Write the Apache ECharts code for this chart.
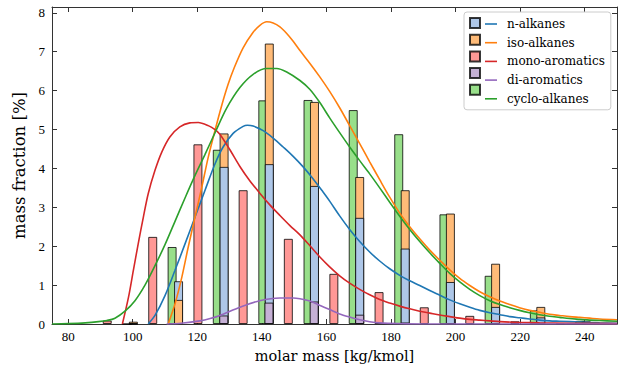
<!DOCTYPE html>
<html><head><meta charset="utf-8">
<script src="https://cdn.jsdelivr.net/npm/echarts@6/dist/echarts.min.js"></script>
<style>html,body{margin:0;padding:0;background:#fff}#c{width:621px;height:370px}</style>
</head><body><div id="c"></div>
<script>
// ---------- tick labels ----------
const xTicks = [80, 100, 120, 140, 160, 180, 200, 220, 240];
const yTicks = [0, 1, 2, 3, 4, 5, 6, 7, 8];

// ---------- histogram bars (molar mass [kg/kmol], mass fraction [%]) ----------
const alkaneMass   = [100.2, 114.2, 128.3, 142.3, 156.3, 170.3, 184.4, 198.4, 212.4, 226.4, 240.5];
const nAlkanes     = [0.00, 1.10, 4.04, 4.11, 3.55, 2.73, 1.94, 1.08, 0.44, 0.17, 0.04];
const isoAlkanes   = [0.06, 0.62, 4.90, 7.21, 5.71, 3.78, 3.44, 2.84, 1.55, 0.44, 0.07];
const monoMass     = [92.1, 106.2, 120.2, 134.2, 148.2, 162.3, 176.3, 190.3, 204.4, 218.4, 232.4];
const monoAromatics= [0.09, 2.24, 4.62, 3.44, 2.19, 1.29, 0.82, 0.43, 0.21, 0.07, 0.02];
const diMass       = [128.2, 142.2, 156.2, 170.3, 184.3];
const diAromatics  = [0.22, 0.55, 0.58, 0.24, 0.04];
const cycloMass    = [98.2, 112.2, 126.2, 140.3, 154.3, 168.3, 182.4, 196.4, 210.4, 224.4, 238.5];
const cycloAlkanes = [0.00, 1.98, 4.48, 5.75, 5.76, 5.50, 4.88, 2.82, 1.24, 0.35, 0.08];

// ---------- fitted distributions ----------
const nFitX = [104.8, 106.9, 110.0, 113.1, 116.2, 119.3, 122.4, 125.5, 128.0, 131.1, 134.2, 135.5, 137.3, 140.4, 143.5, 146.6, 149.7, 152.8, 155.9, 158.9, 161.0, 164.1, 167.2, 170.3, 173.4, 176.5, 179.6, 182.7, 185.8, 188.9, 192.0, 195.1, 198.2, 201.3, 204.4, 207.5, 210.6, 213.7, 216.8, 219.8, 222.9, 226.0, 229.1, 232.2, 238.4, 244.6, 250.0];
const nFitY = [0, 0.22, 0.73, 1.38, 2.06, 2.75, 3.44, 4.12, 4.55, 4.90, 5.08, 5.11, 5.09, 4.97, 4.78, 4.55, 4.31, 4.04, 3.73, 3.40, 3.16, 2.78, 2.43, 2.12, 1.85, 1.62, 1.42, 1.25, 1.11, 0.99, 0.86, 0.74, 0.62, 0.52, 0.43, 0.35, 0.29, 0.24, 0.19, 0.16, 0.13, 0.10, 0.08, 0.07, 0.05, 0.03, 0.02];

const isoFitX = [111.0, 113.1, 115.2, 117.2, 119.3, 121.4, 123.4, 125.5, 127.5, 129.5, 131.5, 134.2, 137.3, 139.4, 141.5, 143.5, 145.6, 147.7, 149.7, 151.8, 154.9, 157.9, 161.0, 164.1, 167.2, 170.3, 173.4, 176.5, 179.6, 182.7, 185.8, 188.9, 192.0, 195.1, 198.2, 201.3, 204.4, 207.5, 210.6, 213.7, 216.8, 219.8, 222.9, 226.0, 229.1, 232.2, 235.3, 238.4, 241.5, 244.6, 250.0];
const isoFitY = [0, 0.52, 1.20, 1.98, 2.75, 3.52, 4.29, 4.98, 5.60, 6.15, 6.60, 7.10, 7.50, 7.68, 7.77, 7.74, 7.64, 7.47, 7.27, 7.03, 6.70, 6.36, 5.98, 5.56, 5.10, 4.64, 4.17, 3.71, 3.26, 2.85, 2.50, 2.19, 1.90, 1.64, 1.39, 1.17, 0.99, 0.83, 0.70, 0.59, 0.50, 0.42, 0.35, 0.30, 0.25, 0.22, 0.19, 0.17, 0.15, 0.13, 0.11];

const monoFitX = [96.8, 98.7, 100.2, 101.7, 103.3, 104.8, 106.9, 109.0, 111.5, 114.6, 117.7, 120.3, 123.4, 125.5, 127.0, 130.1, 133.2, 136.2, 139.3, 142.4, 145.6, 148.7, 151.8, 154.9, 157.9, 161.0, 164.1, 167.2, 170.3, 173.4, 176.5, 179.6, 182.7, 185.8, 188.9, 192.0, 195.1, 198.2, 201.3, 204.4, 207.5, 210.6, 213.7, 219.8, 226.0, 235.3, 250.0];
const monoFitY = [0, 0.69, 1.38, 2.06, 2.75, 3.35, 3.95, 4.42, 4.81, 5.07, 5.17, 5.18, 5.10, 5.00, 4.88, 4.48, 4.05, 3.69, 3.37, 3.07, 2.79, 2.53, 2.29, 2.01, 1.73, 1.47, 1.24, 1.05, 0.89, 0.75, 0.63, 0.54, 0.46, 0.39, 0.33, 0.28, 0.23, 0.19, 0.15, 0.12, 0.10, 0.08, 0.06, 0.04, 0.03, 0.02, 0.01];

const diFitX = [110.5, 115.0, 120.8, 124.0, 127.0, 133.2, 139.3, 145.6, 149.7, 151.8, 154.9, 157.9, 161.0, 164.1, 167.2, 170.3, 173.4, 176.5, 182.7, 190.0, 250.0];
const diFitY = [0, 0.02, 0.08, 0.14, 0.22, 0.43, 0.60, 0.67, 0.67, 0.65, 0.59, 0.48, 0.37, 0.26, 0.18, 0.11, 0.06, 0.03, 0.01, 0, 0];

const cycloFitX = [75.0, 80.0, 85.3, 89.4, 92.0, 94.5, 97.6, 100.7, 103.8, 106.9, 110.0, 113.1, 116.2, 119.3, 122.4, 125.5, 129.1, 133.2, 137.3, 141.5, 144.6, 147.7, 151.8, 154.9, 157.9, 161.0, 164.1, 167.2, 170.3, 173.4, 176.5, 179.6, 182.7, 185.8, 188.9, 192.0, 195.1, 198.2, 201.3, 204.4, 207.5, 210.6, 213.7, 216.8, 219.8, 222.9, 226.0, 229.1, 232.2, 235.3, 238.4, 241.5, 244.6, 250.0];
const cycloFitY = [0.0, 0.01, 0.03, 0.06, 0.09, 0.15, 0.33, 0.60, 1.00, 1.50, 2.04, 2.64, 3.24, 3.82, 4.36, 4.92, 5.55, 6.08, 6.42, 6.57, 6.57, 6.48, 6.26, 6.03, 5.70, 5.30, 4.92, 4.55, 4.20, 3.86, 3.50, 3.13, 2.77, 2.43, 2.12, 1.83, 1.56, 1.30, 1.08, 0.89, 0.73, 0.60, 0.50, 0.42, 0.35, 0.29, 0.24, 0.20, 0.17, 0.14, 0.12, 0.10, 0.09, 0.07];

const seriesNames = ['n-alkanes', 'iso-alkanes', 'mono-aromatics', 'di-aromatics', 'cyclo-alkanes'];

// ---------- styling ----------
const lineColors = ['#1f77b4', '#ff7f0e', '#d62728', '#9467bd', '#2ca02c'];
const barColors  = ['#aec7e8', '#ffbb78', '#ff9896', '#c5b0d5', '#98df8a'];
const SERIF = 'DejaVu Serif';
const TICKFONT = 'Liberation Serif';
const AX = '#333';

const zip = (xs, ys) => xs.map((x, i) => [x, ys[i]]);
const barNames = seriesNames.map(n => n + ' (bars)');

function bar(nameIdx, data) {
  return {
    type: 'bar', name: barNames[nameIdx], data: data,
    barWidth: 9, barGap: '-100%',
    itemStyle: { color: barColors[nameIdx], borderColor: 'rgba(0,0,0,0.78)', borderWidth: 1 },
    emphasis: { disabled: true }, animation: false
  };
}
function line(nameIdx, xs, ys) {
  return {
    type: 'line', name: seriesNames[nameIdx], data: zip(xs, ys),
    symbol: 'none', showSymbol: false, smooth: 0.3,
    lineStyle: { color: lineColors[nameIdx], width: 1.6 },
    itemStyle: { color: lineColors[nameIdx] },
    emphasis: { disabled: true }, animation: false, z: 3
  };
}

// n / iso alkanes overlap: taller bar behind, shorter in front
const backN = [], backIso = [], frontN = [], frontIso = [];
alkaneMass.forEach((x, i) => {
  if (nAlkanes[i] >= isoAlkanes[i]) { backN.push([x, nAlkanes[i]]); frontIso.push([x, isoAlkanes[i]]); }
  else { backIso.push([x, isoAlkanes[i]]); frontN.push([x, nAlkanes[i]]); }
});

const series = [
  bar(4, zip(cycloMass, cycloAlkanes)),
  bar(2, zip(monoMass, monoAromatics)),
  bar(0, backN),
  bar(1, backIso),
  bar(0, frontN),
  bar(1, frontIso),
  bar(3, zip(diMass, diAromatics)),
  line(0, nFitX, nFitY),
  line(1, isoFitX, isoFitY),
  line(2, monoFitX, monoFitY),
  line(3, diFitX, diFitY),
  line(4, cycloFitX, cycloFitY)
];

function xAx(pos, showLabel) {
  return {
    type: 'value', position: pos, min: 75, max: 250,
    axisLine: { show: true, onZero: false, lineStyle: { color: AX, width: 1 } },
    axisTick: { show: true, inside: true, length: 5, customValues: xTicks, lineStyle: { color: AX, width: 1 } },
    axisLabel: { show: showLabel, customValues: xTicks, margin: 6, fontFamily: TICKFONT, fontSize: 13, color: '#000' },
    splitLine: { show: false },
    name: showLabel ? 'molar mass [kg/kmol]' : '', nameLocation: 'middle', nameGap: 24,
    nameTextStyle: { fontFamily: SERIF, fontSize: 14.5, color: '#000' }
  };
}
function yAx(pos, showLabel) {
  return {
    type: 'value', position: pos, min: 0, max: 8.15,
    axisLine: { show: true, onZero: false, lineStyle: { color: AX, width: 1 } },
    axisTick: { show: true, inside: true, length: 5, customValues: yTicks, lineStyle: { color: AX, width: 1 } },
    axisLabel: { show: showLabel, customValues: yTicks, margin: 7, fontFamily: TICKFONT, fontSize: 13, color: '#000' },
    splitLine: { show: false },
    name: showLabel ? 'mass fraction [%]' : '', nameLocation: 'middle', nameGap: 17,
    nameTextStyle: { fontFamily: SERIF, fontSize: 16.5, color: '#000' }
  };
}

const option = {
  backgroundColor: '#fff',
  animation: false,
  grid: { left: 52, right: 4, top: 7, bottom: 46, containLabel: false },
  xAxis: [xAx('bottom', true), xAx('top', false)],
  yAxis: [yAx('left', true), yAx('right', false)],
  legend: [
    {
      data: barNames, orient: 'vertical', left: 469, top: 17, padding: 0,
      itemWidth: 10, itemHeight: 14, itemGap: 4.7,
      icon: 'path://M0,0H10V10H0Z',
      formatter: () => '', textStyle: { fontSize: 12, lineHeight: 14 },
      selectedMode: false, z: 8
    },
    {
      data: seriesNames, orient: 'vertical', left: 464, top: 12, padding: [5, 6, 4, 21],
      itemWidth: 12, itemHeight: 14, itemGap: 4.7,
      icon: 'path://M0,0H12V1.6H0Z',
      textStyle: { fontFamily: SERIF, fontSize: 12, lineHeight: 14, color: '#000', padding: [0, 0, 0, 5] },
      backgroundColor: 'rgba(255,255,255,0.85)', borderColor: '#cccccc', borderWidth: 1, borderRadius: 3,
      selectedMode: false, z: 7
    }
  ],
  series: series
};

const chart = echarts.init(document.getElementById('c'), null, { renderer: 'svg' });
chart.setOption(option);
</script>
</body></html>
